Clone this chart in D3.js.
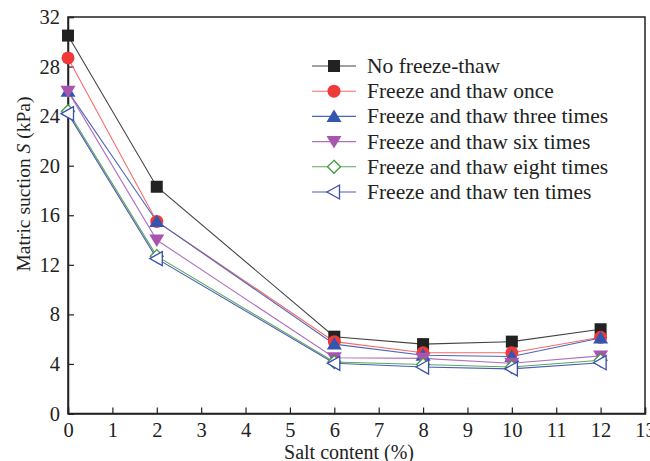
<!DOCTYPE html>
<html><head><meta charset="utf-8">
<script src="https://cdn.jsdelivr.net/npm/d3@7"></script>
<style>
html,body{margin:0;padding:0;background:#fff;}
</style></head>
<body><svg id="c" width="650" height="461"></svg>
<script>
const saltContent = [0, 2, 6, 8, 10, 12];
const seriesNames = ["No freeze-thaw","Freeze and thaw once","Freeze and thaw three times","Freeze and thaw six times","Freeze and thaw eight times","Freeze and thaw ten times"];
const noFreeze   = [30.5, 18.3, 6.2, 5.6, 5.8, 6.8];
const once       = [28.7, 15.5, 5.8, 4.9, 4.9, 6.15];
const threeTimes = [26.0, 15.5, 5.6, 4.7, 4.6, 6.1];
const sixTimes   = [26.0, 14.0, 4.5, 4.45, 4.05, 4.65];
const eightTimes = [24.4, 12.7, 4.15, 3.95, 3.75, 4.3];
const tenTimes   = [24.2, 12.5, 4.05, 3.75, 3.6, 4.1];
const xTicks = d3.range(0, 14, 1);
const yTicks = [0,4,8,12,16,20,24,28,32];

const seriesValues = [noFreeze, once, threeTimes, sixTimes, eightTimes, tenTimes];
const colors = ["#222222","#f03a3a","#3556b0","#a855b0","#3d9a3d","#3d4db0"];
const lineColors = ["#444444","#f86a6a","#4a66bb","#b070c0","#5aa85a","#4a5cb8"];
const markers = ["square","circle","triUp","triDown","diamond","triLeft"];
const FONT = '"Liberation Serif"';

const svg = d3.select("#c");
const L=68, R=645, T=17, B=413.5;
const x = d3.scaleLinear().domain([0,13]).range([L,R]);
const y = d3.scaleLinear().domain([0,32]).range([B,T]);

svg.append("rect").attr("x",L).attr("y",T).attr("width",R-L).attr("height",B-T)
  .attr("fill","none").attr("stroke","#222").attr("stroke-width",1.5);

const xAxis = svg.append("g").attr("transform",`translate(0,${B})`)
  .call(d3.axisBottom(x).tickValues(xTicks).tickSize(-6).tickPadding(9).tickFormat(d3.format("d")));
const yAxis = svg.append("g").attr("transform",`translate(${L},0)`)
  .call(d3.axisLeft(y).tickValues(yTicks).tickSize(-6).tickPadding(8).tickFormat(d3.format("d")));
[xAxis,yAxis].forEach(g=>{
  g.select(".domain").attr("stroke","#222").attr("stroke-width",1.5);
  g.selectAll(".tick line").attr("stroke","#222").attr("stroke-width",1.2);
  g.selectAll(".tick text").style("font-size","20.5px").style("font-family",FONT).attr("fill","#222");
});

svg.append("text").attr("x",349).attr("y",458.5).attr("text-anchor","middle")
  .style("font-size","20px").style("font-family",FONT).attr("fill","#222").text("Salt content (%)");
const yt = svg.append("text").attr("transform",`translate(30,184) rotate(-90)`)
  .attr("text-anchor","middle").style("font-size","19.5px").style("font-family",FONT).attr("fill","#222");
yt.append("tspan").text("Matric suction ");
yt.append("tspan").style("font-style","italic").text("S");
yt.append("tspan").text(" (kPa)");

function drawMarker(g, type, cx, cy, color){
  const s = 6;
  if(type==="square"){
    g.append("rect").attr("x",cx-s).attr("y",cy-s).attr("width",2*s).attr("height",2*s).attr("fill",color);
  } else if(type==="circle"){
    g.append("circle").attr("cx",cx).attr("cy",cy).attr("r",6.5).attr("fill",color);
  } else if(type==="triUp"){
    g.append("path").attr("d",`M${cx},${cy-7}L${cx+7.5},${cy+5.5}L${cx-7.5},${cy+5.5}Z`).attr("fill",color);
  } else if(type==="triDown"){
    g.append("path").attr("d",`M${cx},${cy+7}L${cx+7.5},${cy-5.5}L${cx-7.5},${cy-5.5}Z`).attr("fill",color);
  } else if(type==="diamond"){
    g.append("path").attr("d",`M${cx},${cy-6.5}L${cx+6.5},${cy}L${cx},${cy+6.5}L${cx-6.5},${cy}Z`)
      .attr("fill","#fff").attr("stroke",color).attr("stroke-width",1.3);
  } else if(type==="triLeft"){
    g.append("path").attr("d",`M${cx-7},${cy}L${cx+5.5},${cy-7}L${cx+5.5},${cy+7}Z`)
      .attr("fill","#fff").attr("stroke",color).attr("stroke-width",1.3);
  }
}

const line = d3.line().x((d,i)=>x(saltContent[i])).y(d=>y(d));
seriesValues.forEach((vals,k)=>{
  svg.append("path").datum(vals).attr("d",line).attr("fill","none")
    .attr("stroke",lineColors[k]).attr("stroke-width",1.1);
});
seriesValues.forEach((vals,k)=>{
  const g = svg.append("g");
  vals.forEach((v,i)=>drawMarker(g, markers[k], x(saltContent[i]), y(v), colors[k]));
});

const lg = svg.append("g");
seriesNames.forEach((name,k)=>{
  const yy = 66 + k*25.2;
  lg.append("line").attr("x1",312).attr("x2",356).attr("y1",yy).attr("y2",yy)
    .attr("stroke",lineColors[k]).attr("stroke-width",1.1);
  drawMarker(lg, markers[k], 334, yy, colors[k]);
  lg.append("text").attr("x",367).attr("y",yy+7).style("font-size","21.5px").style("font-family",FONT)
    .attr("fill","#222").text(name);
});
</script></body></html>
